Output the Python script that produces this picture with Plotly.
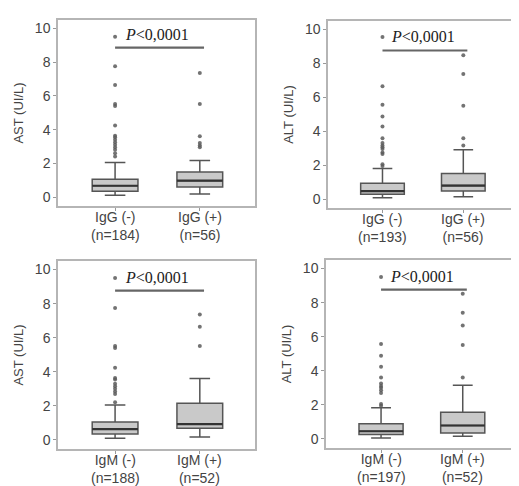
import plotly.graph_objects as go

# four panels: AST/ALT vs IgG/IgM status
panel_ytitle = ["AST (UI/L)", "ALT (UI/L)", "AST (UI/L)", "ALT (UI/L)"]
panel_groups = [["IgG (-)", "IgG (+)"], ["IgG (-)", "IgG (+)"],
                ["IgM (-)", "IgM (+)"], ["IgM (-)", "IgM (+)"]]
panel_n = [[184, 56], [193, 56], [188, 52], [197, 52]]
p_text = ["P<0,0001", "P<0,0001", "P<0,0001", "P<0,0001"]
sig_y = [8.86, 8.76, 8.76, 8.76]

# box stats per panel: [negative group, positive group]
lowfence = [[0.10, 0.18], [0.08, 0.14], [0.10, 0.18], [0.06, 0.16]]
q1 = [[0.35, 0.60], [0.28, 0.47], [0.35, 0.69], [0.26, 0.35]]
median = [[0.67, 0.97], [0.47, 0.79], [0.63, 0.93], [0.45, 0.79]]
q3 = [[1.06, 1.48], [0.93, 1.50], [1.05, 2.15], [0.89, 1.57]]
upfence = [[2.05, 2.17], [1.80, 2.90], [2.05, 3.60], [1.83, 3.15]]

outliers = [
    [[9.5, 7.75, 6.65, 5.52, 5.4, 4.24, 3.63, 3.55, 3.4, 3.25, 3.1, 2.95, 2.8, 2.6, 2.4],
     [7.36, 5.52, 3.61, 3.2, 3.05, 2.95]],
    [[9.55, 6.65, 5.56, 4.87, 4.28, 3.59, 3.3, 3.15, 3.05, 2.95, 2.75, 2.65, 2.05, 1.95],
     [8.48, 7.38, 5.5, 3.59, 3.16]],
    [[9.5, 7.75, 5.52, 5.4, 4.24, 3.63, 3.55, 3.3, 3.15, 3.0, 2.85, 2.7, 2.22],
     [7.36, 6.65, 5.52]],
    [[9.5, 5.57, 4.88, 4.23, 3.6, 3.25, 3.1, 3.0, 2.85, 2.7, 2.05, 1.95],
     [8.52, 7.4, 6.65, 5.51, 3.6]],
]

# panel frames (paper coords)
doms_x = [[0.0963, 0.476], [0.6166, 0.9788], [0.0963, 0.476], [0.6127, 0.9788]]
doms_y = [[0.5926, 0.9753], [0.5885, 0.9733], [0.0926, 0.4794], [0.0947, 0.4815]]

box_w = 0.54
line_col = "#555555"
txt_font = dict(family="Liberation Sans, Arial", size=14, color="#444")
fig = go.Figure()
layout = dict(width=519, height=486, margin=dict(l=0, r=0, t=0, b=0),
              paper_bgcolor="white", plot_bgcolor="white", showlegend=False)

for i in range(4):
    s = "" if i == 0 else str(i + 1)
    xa, ya = "x" + s, "y" + s
    for g in range(2):
        fig.add_trace(go.Box(
            x=[g], q1=[q1[i][g]], median=[median[i][g]], q3=[q3[i][g]],
            lowerfence=[lowfence[i][g]], upperfence=[upfence[i][g]],
            width=box_w, whiskerwidth=0.45, boxpoints=False,
            fillcolor="#c9c9c9", line=dict(color=line_col, width=1.5),
            xaxis=xa, yaxis=ya, hoverinfo="skip"))
        # darker, thicker median
        fig.add_trace(go.Scatter(
            x=[g - box_w / 2, g + box_w / 2], y=[median[i][g]] * 2,
            mode="lines", line=dict(color="#333333", width=2.2),
            xaxis=xa, yaxis=ya, hoverinfo="skip"))
        fig.add_trace(go.Scatter(
            x=[g] * len(outliers[i][g]), y=outliers[i][g], mode="markers",
            marker=dict(color="#5a5a5a", size=4, opacity=0.85),
            xaxis=xa, yaxis=ya, hoverinfo="skip"))
        # group label under the axis
        fig.add_annotation(
            x=g, y=0, xref=xa, yref=ya + " domain", yanchor="top", yshift=-1,
            text="%s<br>(n=%d)" % (panel_groups[i][g], panel_n[i][g]),
            showarrow=False, font=txt_font)
    # significance bar
    fig.add_trace(go.Scatter(
        x=[0, 1.05], y=[sig_y[i]] * 2, mode="lines",
        line=dict(color="#666666", width=2.2), xaxis=xa, yaxis=ya, hoverinfo="skip"))
    fig.add_annotation(
        x=0.5, y=sig_y[i], xref=xa, yref=ya, yanchor="bottom", yshift=3,
        text="<i>P</i>&lt;" + p_text[i][2:], showarrow=False,
        font=dict(family="Liberation Serif, Times New Roman, serif", size=16, color="#222"))

    layout["xaxis" + s] = dict(
        domain=doms_x[i], anchor=ya, range=[-0.674, 1.652],
        tickvals=[0, 1], showticklabels=False, showgrid=False, zeroline=False,
        showline=True, mirror=True, linecolor="#b5b5b5", linewidth=1.5,
        ticks="outside", ticklen=3, tickcolor="#999")
    layout["yaxis" + s] = dict(
        domain=doms_y[i], anchor=xa, range=[-0.53, 10.5],
        tickvals=[0, 2, 4, 6, 8, 10], showgrid=False, zeroline=False,
        showline=True, mirror=True, linecolor="#b5b5b5", linewidth=1.5,
        ticks="outside", ticklen=3, tickcolor="#999", tickfont=txt_font,
        title=dict(text=panel_ytitle[i], standoff=8, font=dict(txt_font, size=13)))

fig.update_layout(**layout)
fig.write_html("out.html")
